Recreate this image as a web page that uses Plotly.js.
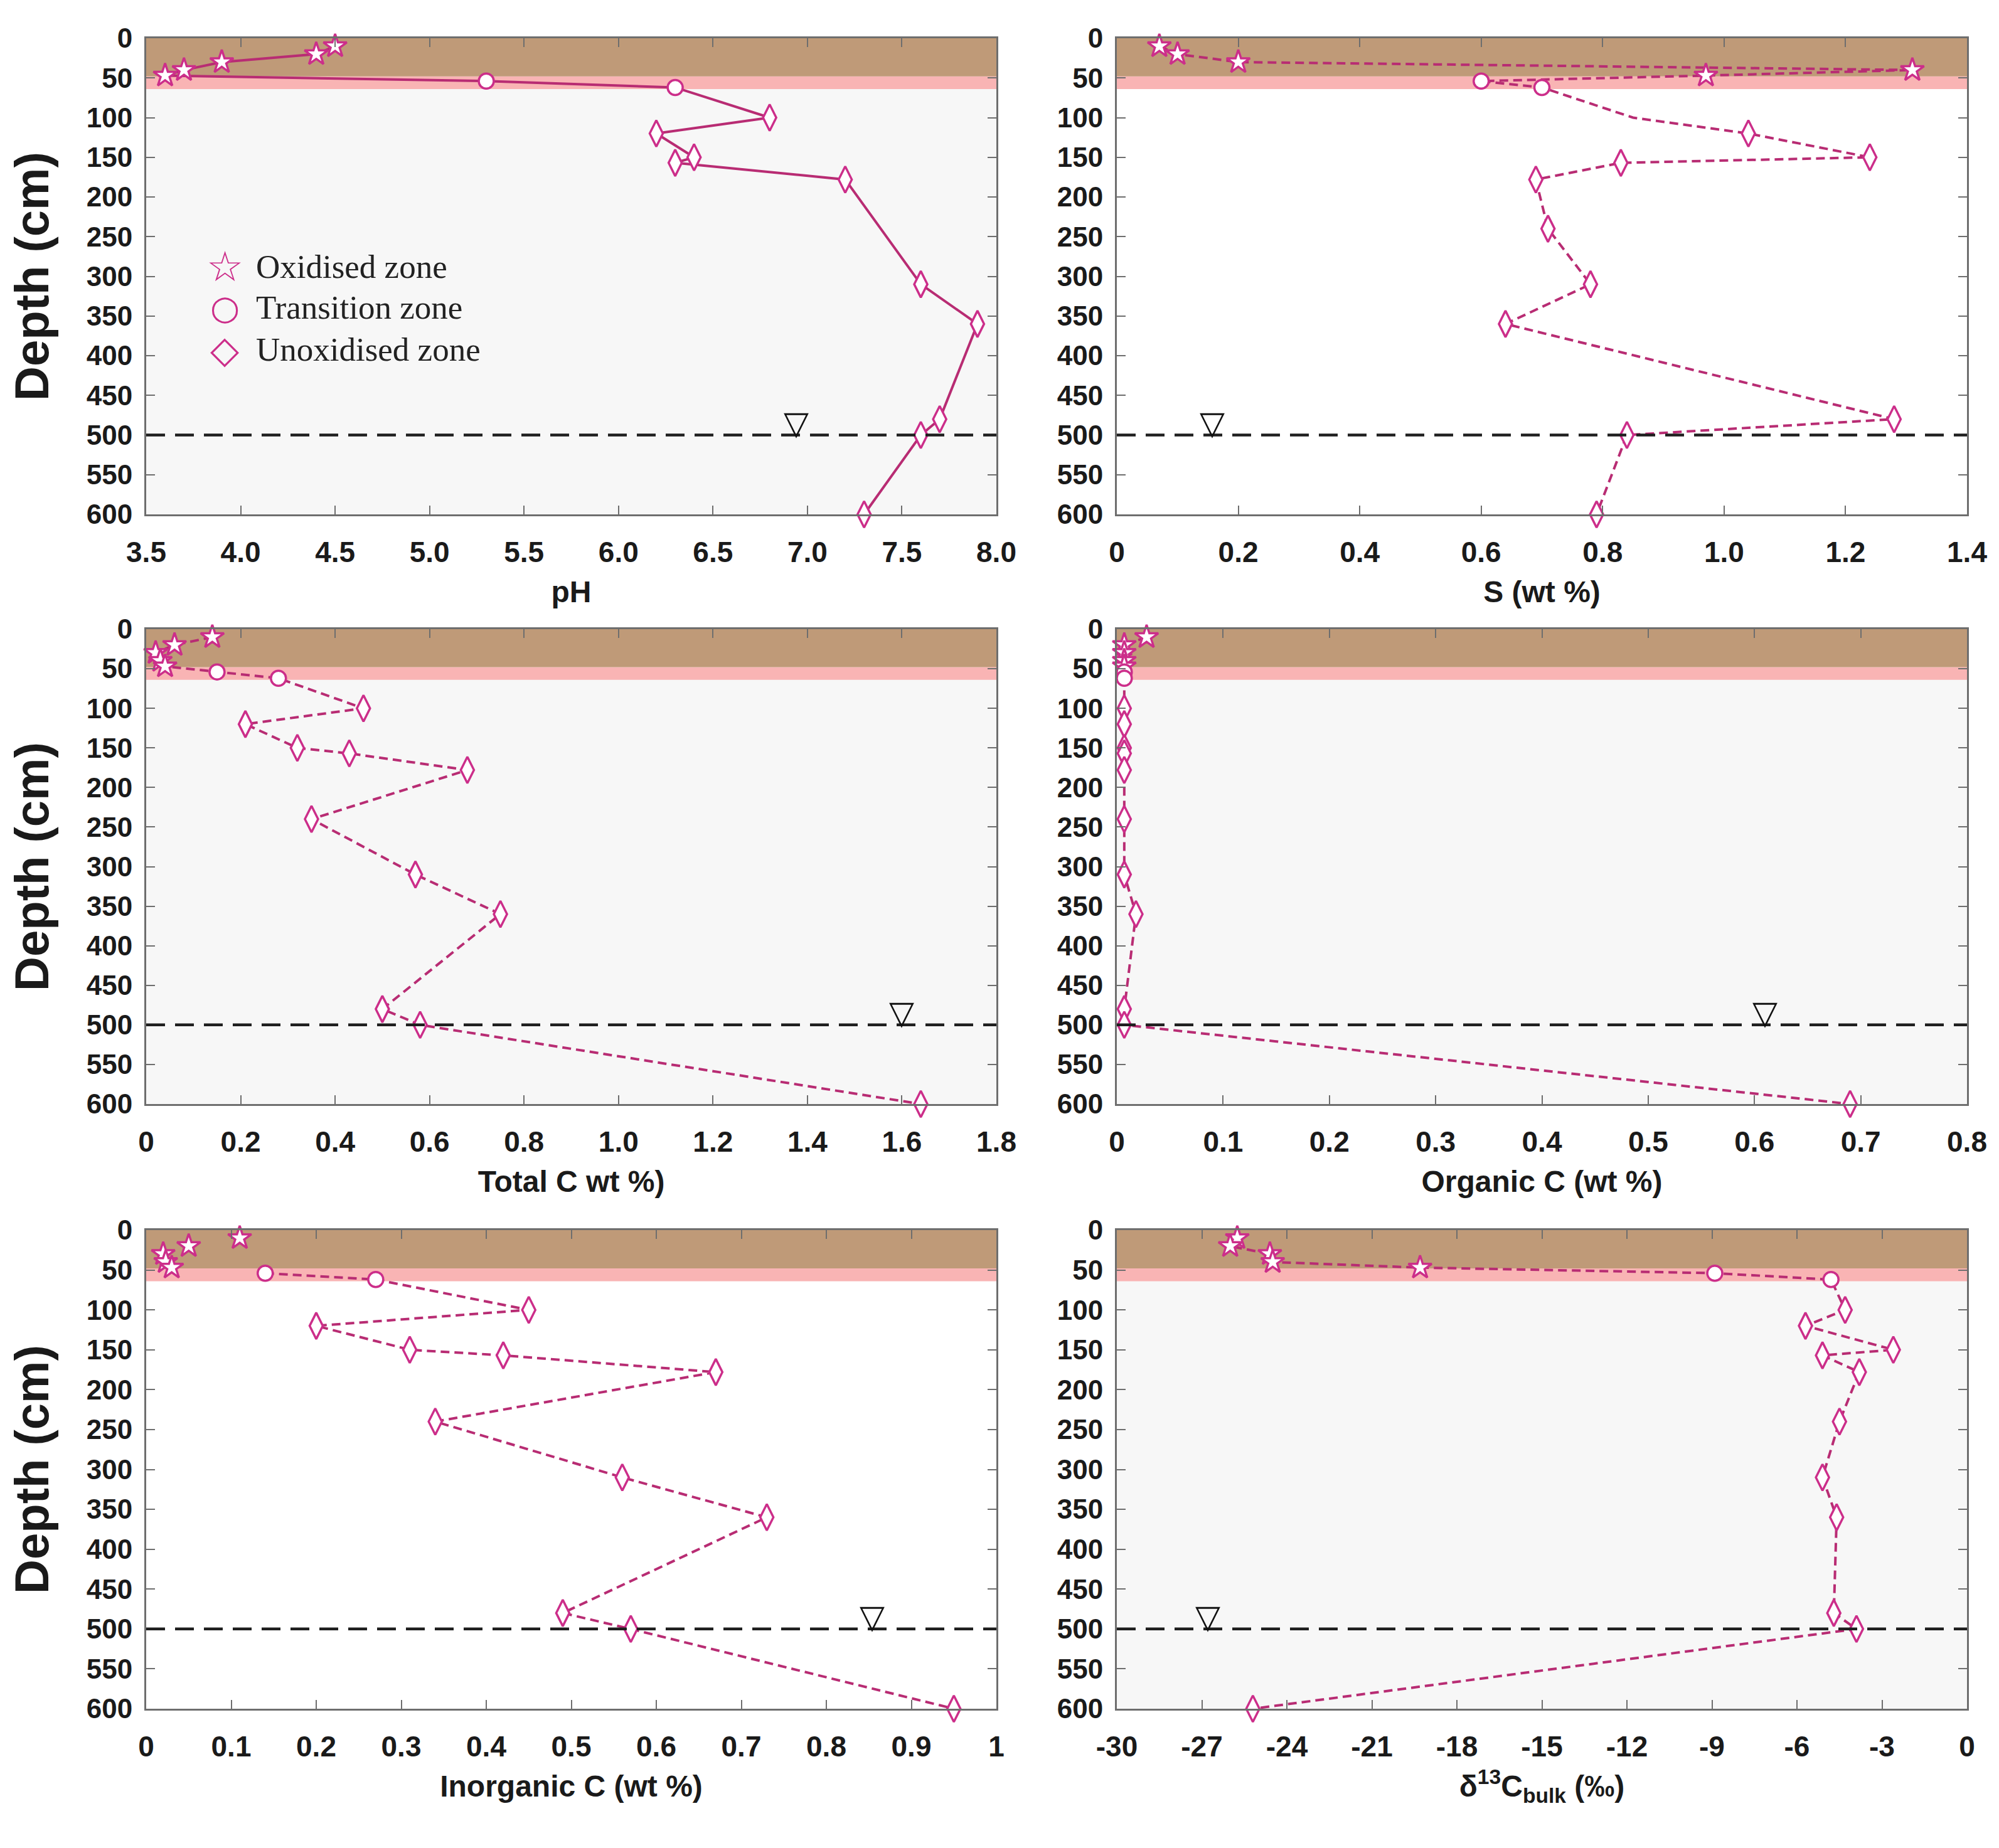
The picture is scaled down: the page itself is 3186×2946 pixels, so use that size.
<!DOCTYPE html>
<html>
<head>
<meta charset="utf-8">
<script src="https://cdn.plot.ly/plotly-3.0.1.min.js"></script>
<style>html,body{margin:0;padding:0;background:#fff;}#chart{width:3186px;height:2946px;}</style>
</head>
<body>
<div id="chart"></div>
<script>
// ---------------- DATA ----------------
const depthCm   = [10, 20, 30, 40, 47, 54, 62, 100, 120, 150, 157, 178, 240, 310, 360, 480, 500, 600];
const zone      = ['Oxidised zone','Oxidised zone','Oxidised zone','Oxidised zone','Oxidised zone',
                   'Transition zone','Transition zone',
                   'Unoxidised zone','Unoxidised zone','Unoxidised zone','Unoxidised zone','Unoxidised zone','Unoxidised zone',
                   'Unoxidised zone','Unoxidised zone','Unoxidised zone','Unoxidised zone','Unoxidised zone'];
const zoneNames = ['Oxidised zone', 'Transition zone', 'Unoxidised zone'];

const pH         = [4.5, 4.4, 3.9, 3.7, 3.6, 5.3, 6.3, 6.8, 6.2, 6.4, 6.3, 7.2, null, 7.6, 7.9, 7.7, 7.6, 7.3];
const sulphurWt  = [0.07, 0.10, 0.20, 1.31, 0.97, 0.60, 0.70, 0.85, 1.04, 1.24, 0.83, 0.69, 0.71, 0.78, 0.64, 1.28, 0.84, 0.79];
const sulphurUnmarkedDepths = [100];
const totalCWt   = [0.14, 0.06, 0.02, 0.03, 0.04, 0.15, 0.28, 0.46, 0.21, 0.32, 0.43, 0.68, 0.35, 0.57, 0.75, 0.50, 0.58, 1.64];
const organicCWt = [0.028, 0.007, 0.007, 0.007, 0.007, 0.007, 0.007, 0.007, 0.007, 0.007, 0.007, 0.007, 0.007, 0.007, 0.018, 0.007, 0.007, 0.69];
const inorganicCWt = [0.11, 0.05, 0.02, 0.023, 0.03, 0.14, 0.27, 0.45, 0.20, 0.31, 0.42, 0.67, 0.34, 0.56, 0.73, 0.49, 0.57, 0.95];
const d13CBulk   = [-25.75, -26.0, -24.6, -24.5, -19.3, -8.9, -4.8, -4.3, -5.7, -2.6, -5.1, -3.8, -4.5, -5.1, -4.6, -4.7, -3.9, -25.2];

const waterTableDepth = 500;
const oxidisedBaseDepth = 48;
const transitionBaseDepth = 64;
const waterTableMarkX = [6.94, 0.157, 1.60, 0.61, 0.854, -26.8];

const depthTicks = [0, 50, 100, 150, 200, 250, 300, 350, 400, 450, 500, 550, 600];
const pHTicks = [3.5, 4.0, 4.5, 5.0, 5.5, 6.0, 6.5, 7.0, 7.5, 8.0];
const pHTickText = ['3.5','4.0','4.5','5.0','5.5','6.0','6.5','7.0','7.5','8.0'];
const sTicks = [0, 0.2, 0.4, 0.6, 0.8, 1.0, 1.2, 1.4];
const sTickText = ['0','0.2','0.4','0.6','0.8','1.0','1.2','1.4'];
const totalCTicks = [0, 0.2, 0.4, 0.6, 0.8, 1.0, 1.2, 1.4, 1.6, 1.8];
const totalCTickText = ['0','0.2','0.4','0.6','0.8','1.0','1.2','1.4','1.6','1.8'];
const orgCTicks = [0, 0.1, 0.2, 0.3, 0.4, 0.5, 0.6, 0.7, 0.8];
const orgCTickText = ['0','0.1','0.2','0.3','0.4','0.5','0.6','0.7','0.8'];
const inorgCTicks = [0, 0.1, 0.2, 0.3, 0.4, 0.5, 0.6, 0.7, 0.8, 0.9, 1];
const inorgCTickText = ['0','0.1','0.2','0.3','0.4','0.5','0.6','0.7','0.8','0.9','1'];
const d13CTicks = [-30, -27, -24, -21, -18, -15, -12, -9, -6, -3, 0];
const d13CTickText = ['-30','-27','-24','-21','-18','-15','-12','-9','-6','-3','0'];

// ---------------- STYLE ----------------
const LINE_COLOR = '#B82C73';
const MARK_COLOR = '#CC2E8A';
const BROWN = '#BF9A78';
const PINK = '#F9B4B4';
const GREY_BG = '#F7F7F7';
const AXIS_COLOR = '#6e6e6e';
const TICK_FONT_FAMILY = '"Liberation Sans Narrow", "Arial Narrow", "Liberation Sans", Arial, sans-serif';
const TITLE_FONT_FAMILY = '"Liberation Sans", Arial, sans-serif';

const W = 3186, H = 2946;
const colsPx = [[233, 1588], [1780, 3135]];
const rowsPx = [[61, 820], [1003, 1760], [1961, 2724]];

const panels = [
  {x: pH, xr: [3.5, 8.0], tv: pHTicks, tt: pHTickText, title: 'pH', dash: 'solid', linkOx: true, bg: GREY_BG, col: 0, row: 0, noMark: []},
  {x: sulphurWt, xr: [0, 1.4], tv: sTicks, tt: sTickText, title: 'S (wt %)', dash: '14px,8px', linkOx: true, bg: '#ffffff', col: 1, row: 0, noMark: sulphurUnmarkedDepths},
  {x: totalCWt, xr: [0, 1.8], tv: totalCTicks, tt: totalCTickText, title: 'Total C wt %)', dash: '14px,8px', linkOx: true, bg: GREY_BG, col: 0, row: 1, noMark: []},
  {x: organicCWt, xr: [0, 0.8], tv: orgCTicks, tt: orgCTickText, title: 'Organic C (wt %)', dash: '14px,8px', linkOx: true, bg: GREY_BG, col: 1, row: 1, noMark: []},
  {x: inorganicCWt, xr: [0, 1], tv: inorgCTicks, tt: inorgCTickText, title: 'Inorganic C (wt %)', dash: '14px,8px', linkOx: false, bg: '#ffffff', col: 0, row: 2, noMark: []},
  {x: d13CBulk, xr: [-30, 0], tv: d13CTicks, tt: d13CTickText, title: 'δ<sup>13</sup>C<sub>bulk</sub> (‰)', dash: '14px,8px', linkOx: true, bg: GREY_BG, col: 1, row: 2, noMark: []}
];

const symbolFor = {'Oxidised zone': 'star', 'Transition zone': 'circle', 'Unoxidised zone': 'diamond-tall'};
const sizeFor = {'Oxidised zone': 28, 'Transition zone': 24, 'Unoxidised zone': 30};

const traces = [];
const shapes = [];
const annotations = [];
const layout = {
  width: W, height: H,
  margin: {l: 0, r: 0, t: 0, b: 0},
  paper_bgcolor: '#ffffff',
  showlegend: false,
  font: {family: TITLE_FONT_FAMILY, color: '#1a1a1a'}
};

panels.forEach((p, i) => {
  const n = i + 1;
  const xa = n === 1 ? 'x' : 'x' + n;
  const ya = n === 1 ? 'y' : 'y' + n;
  const xKey = n === 1 ? 'xaxis' : 'xaxis' + n;
  const yKey = n === 1 ? 'yaxis' : 'yaxis' + n;
  const cx = colsPx[p.col], ry = rowsPx[p.row];

  layout[xKey] = {
    domain: [cx[0] / W, cx[1] / W], anchor: ya, range: p.xr,
    tickmode: 'array', tickvals: p.tv, ticktext: p.tt,
    ticks: 'inside', ticklen: 14, tickwidth: 2, tickcolor: AXIS_COLOR,
    showline: true, linecolor: AXIS_COLOR, linewidth: 3, mirror: 'ticks',
    showgrid: false, zeroline: false,
    tickfont: {family: TICK_FONT_FAMILY, size: 46, color: '#1a1a1a', weight: 'bold'},
    ticklabelstandoff: 18,
    title: {text: p.title, standoff: 22, font: {family: TICK_FONT_FAMILY, size: 48, color: '#1a1a1a', weight: 'bold'}}
  };
  layout[yKey] = {
    domain: [1 - ry[1] / H, 1 - ry[0] / H], anchor: xa, range: [600, 0],
    tickmode: 'array', tickvals: depthTicks, ticktext: depthTicks.map(String),
    ticks: 'inside', ticklen: 14, tickwidth: 2, tickcolor: AXIS_COLOR,
    showline: true, linecolor: AXIS_COLOR, linewidth: 3, mirror: 'ticks',
    showgrid: false, zeroline: false,
    tickfont: {family: TICK_FONT_FAMILY, size: 44, color: '#1a1a1a', weight: 'bold'},
    ticklabelstandoff: 10
  };
  if (p.col === 0) {
    layout[yKey].title = {text: 'Depth (cm)', standoff: 36, font: {family: TITLE_FONT_FAMILY, size: 76, color: '#1a1a1a', weight: 'bold'}};
  }

  // background bands
  shapes.push({type: 'rect', xref: xa + ' domain', yref: ya, x0: 0, x1: 1, y0: 0, y1: 600, fillcolor: p.bg, line: {width: 0}, layer: 'below'});
  shapes.push({type: 'rect', xref: xa + ' domain', yref: ya, x0: 0, x1: 1, y0: oxidisedBaseDepth, y1: transitionBaseDepth, fillcolor: PINK, line: {width: 0}, layer: 'below'});
  shapes.push({type: 'rect', xref: xa + ' domain', yref: ya, x0: 0, x1: 1, y0: 0, y1: oxidisedBaseDepth, fillcolor: BROWN, line: {width: 0}, layer: 'below'});
  // water table line
  shapes.push({type: 'line', xref: xa + ' domain', yref: ya, x0: 0, x1: 1, y0: waterTableDepth, y1: waterTableDepth, line: {color: '#1e1e1e', width: 4.5, dash: '30px,16px'}, layer: 'above'});

  annotations.push({
    xref: xa, yref: ya, x: waterTableMarkX[i], y: waterTableDepth, text: '▽', showarrow: false,
    xanchor: 'center', yanchor: 'bottom', yshift: -12,
    font: {family: 'DejaVu Sans', size: 52, color: '#111111'}
  });

  // profile line
  const lx = [], ly = [];
  p.x.forEach((v, k) => {
    if (v === null) return;
    if (!p.linkOx && zone[k] === 'Oxidised zone') return;
    lx.push(v); ly.push(depthCm[k]);
  });
  traces.push({type: 'scatter', mode: 'lines', x: lx, y: ly, xaxis: xa, yaxis: ya, cliponaxis: false,
    line: {color: LINE_COLOR, width: 4, dash: p.dash}, hoverinfo: 'skip'});

  // markers by zone
  zoneNames.forEach(z => {
    const mx = [], my = [];
    p.x.forEach((v, k) => {
      if (v === null || zone[k] !== z) return;
      if (p.noMark.indexOf(depthCm[k]) >= 0) return;
      mx.push(v); my.push(depthCm[k]);
    });
    traces.push({type: 'scatter', mode: 'markers', name: z, x: mx, y: my, xaxis: xa, yaxis: ya, cliponaxis: false,
      marker: {symbol: symbolFor[z], size: sizeFor[z], color: '#ffffff', line: {color: MARK_COLOR, width: 3.5}}});
  });
});

// legend (drawn in the pH panel)
const legendRows = [0.5204, 0.435, 0.3465];
const legendGlyphs = ['☆', '○', '◇'];
const legendGlyphSize = [66, 54, 60];
zoneNames.forEach((z, k) => {
  annotations.push({xref: 'x domain', yref: 'y domain', x: 0.0923, y: legendRows[k], text: legendGlyphs[k], showarrow: false,
    xanchor: 'center', yanchor: 'middle', height: 62, font: {family: 'DejaVu Sans', size: legendGlyphSize[k], color: MARK_COLOR}});
  annotations.push({xref: 'x domain', yref: 'y domain', x: 0.128, y: legendRows[k], text: z, showarrow: false,
    xanchor: 'left', yanchor: 'middle', font: {family: '"Liberation Serif", "Times New Roman", serif', size: 53, color: '#222222'}});
});

layout.shapes = shapes;
layout.annotations = annotations;

Plotly.newPlot('chart', traces, layout, {displayModeBar: false, staticPlot: true});
</script>
</body>
</html>
